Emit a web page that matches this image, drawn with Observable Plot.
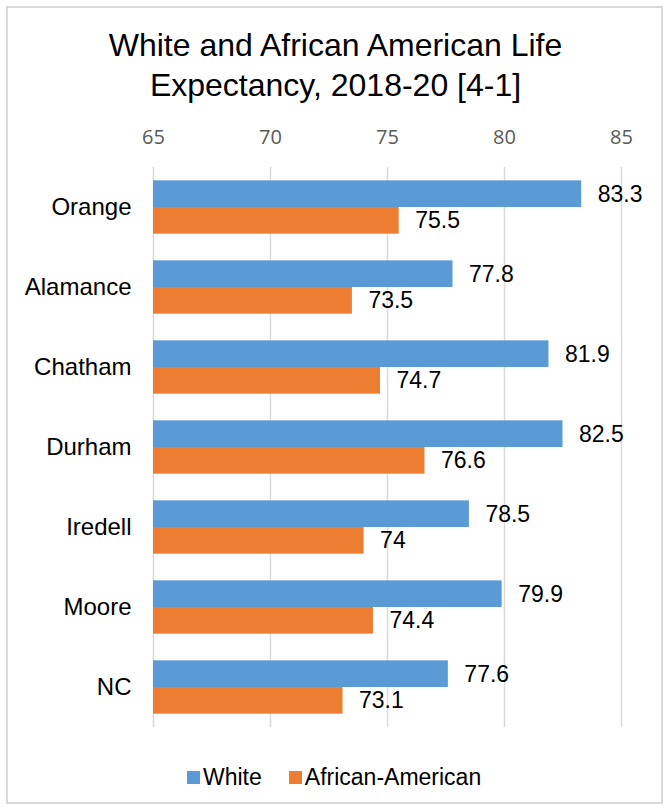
<!DOCTYPE html>
<html>
<head>
<meta charset="utf-8">
<script src="https://cdn.jsdelivr.net/npm/d3@7"></script>
<script src="https://cdn.jsdelivr.net/npm/@observablehq/plot@0.6"></script>
<style>
  html, body { margin: 0; padding: 0; background: #fff; }
  #wrap { position: relative; width: 664px; height: 810px; overflow: hidden; background: #fff; }
  #border { position: absolute; left: 6px; top: 6px; width: 657px; height: 798px; box-sizing: border-box; border: 2px solid #d9d9d9; }
  #title { position: absolute; left: 7px; width: 657px; top: 25px; text-align: center;
           font-family: "Liberation Sans", Arial, sans-serif; font-size: 32px; line-height: 40px; color: #000; }
  #chart { position: absolute; left: 0; top: 110px; }
  #legend { position: absolute; left: 187px; top: 764px; height: 26px; display: flex; align-items: center;
            font-family: "Liberation Sans", Arial, sans-serif; font-size: 23px; line-height: 26px; color: #000; }
  #legend .item { display: flex; align-items: center; margin-right: 27px; }
  #legend .sw { width: 13px; height: 13px; margin-right: 3px; }
</style>
</head>
<body>
<div id="wrap">
  <div id="border"></div>
  <div id="title">White and African American Life<br>Expectancy, 2018-20 [4-1]</div>
  <div id="chart"></div>
  <div id="legend"></div>
</div>
<script>
const counties = ["Orange", "Alamance", "Chatham", "Durham", "Iredell", "Moore", "NC"];
const whiteValues = [83.3, 77.8, 81.9, 82.5, 78.5, 79.9, 77.6];
const africanValues = [75.5, 73.5, 74.7, 76.6, 74, 74.4, 73.1];
const seriesNames = ["White", "African-American"];
const seriesColors = ["#5B9BD5", "#ED7D31"];
const xTicks = [65, 70, 75, 80, 85];

const whiteRows = counties.map((c, i) => ({county: c, series: seriesNames[0], value: whiteValues[i]}));
const africanRows = counties.map((c, i) => ({county: c, series: seriesNames[1], value: africanValues[i]}));

const W = 664, H = 630;
const mTop = 57, mBottom = 13, mLeft = 153, mRight = 43;
const pInner = 1 / 3, pOuter = 1 / 6;
const step = (H - mTop - mBottom) / (counties.length - pInner + 2 * pOuter);
const half = step * (1 - pInner) / 2;

const labelFont = "'Liberation Sans', Arial, sans-serif";
const xMin = xTicks[0];

const chart = Plot.plot({
  width: W,
  height: H,
  marginTop: mTop,
  marginBottom: mBottom,
  marginLeft: mLeft,
  marginRight: mRight,
  style: {background: "transparent", overflow: "visible"},
  x: {domain: [xTicks[0], xTicks[xTicks.length - 1]], axis: null, label: null},
  y: {domain: counties, paddingInner: pInner, paddingOuter: pOuter, round: false, axis: null, label: null},
  marks: [
    Plot.gridX(xTicks, {stroke: "#d9d9d9", strokeOpacity: 1, strokeWidth: 1.5}),
    Plot.barX(whiteRows, {y: "county", x1: () => xMin, x2: "value", fill: seriesColors[0], insetBottom: half}),
    Plot.barX(africanRows, {y: "county", x1: () => xMin, x2: "value", fill: seriesColors[1], insetTop: half}),
    Plot.text(whiteRows, {y: "county", x: "value", text: d => String(d.value), dx: 16, dy: -half / 2,
      textAnchor: "start", fontSize: 23, fontFamily: labelFont, fill: "#000"}),
    Plot.text(africanRows, {y: "county", x: "value", text: d => String(d.value), dx: 16, dy: half / 2,
      textAnchor: "start", fontSize: 23, fontFamily: labelFont, fill: "#000"}),
    Plot.axisX(xTicks, {anchor: "top", label: null, tickSize: 0, tickPadding: 24, fontSize: 20,
      fontFamily: "'Open Sans', sans-serif", fill: "#595959", tickFormat: d => String(d)}),
    Plot.axisY({anchor: "left", label: null, tickSize: 0, tickPadding: 22, fontSize: 24,
      fontFamily: labelFont, fill: "#000"})
  ]
});
document.getElementById("chart").appendChild(chart);

const legend = document.getElementById("legend");
seriesNames.forEach((name, i) => {
  const item = document.createElement("div");
  item.className = "item";
  const sw = document.createElement("div");
  sw.className = "sw";
  sw.style.background = seriesColors[i];
  const label = document.createElement("span");
  label.textContent = name;
  item.appendChild(sw);
  item.appendChild(label);
  legend.appendChild(item);
});
</script>
</body>
</html>
